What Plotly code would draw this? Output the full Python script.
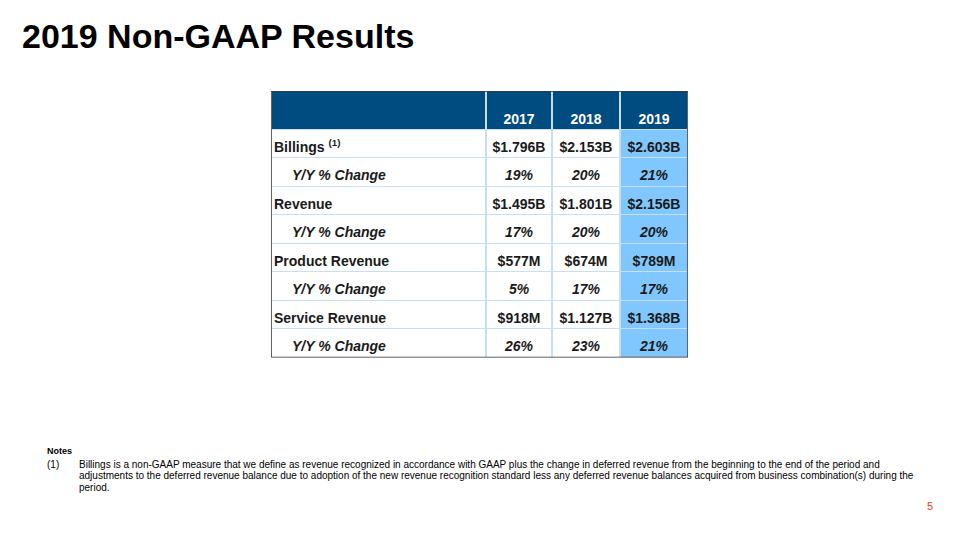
import plotly.graph_objects as go

title = "2019 Non-GAAP Results"
years = ["2017", "2018", "2019"]
row_labels = ["Billings", "Y/Y % Change", "Revenue", "Y/Y % Change",
              "Product Revenue", "Y/Y % Change", "Service Revenue", "Y/Y % Change"]
footnote_marks = ["(1)", "", "", "", "", "", "", ""]
v2017 = ["$1.796B", "19%", "$1.495B", "17%", "$577M", "5%", "$918M", "26%"]
v2018 = ["$2.153B", "20%", "$1.801B", "20%", "$674M", "17%", "$1.127B", "23%"]
v2019 = ["$2.603B", "21%", "$2.156B", "20%", "$789M", "17%", "$1.368B", "21%"]
highlight_year = "2019"
note_lines = [
    "Billings is a non-GAAP measure that we define as revenue recognized in accordance with GAAP plus the change in deferred revenue from the beginning to the end of the period and",
    "adjustments to the deferred revenue balance due to adoption of the new revenue recognition standard less any deferred revenue balances acquired from business combination(s) during the",
    "period.",
]

FONT = "Liberation Sans, Arial, sans-serif"
HEADER_BLUE = "#004B7F"
LIGHT_BLUE = "#80C6FF"
LINE_BLUE = "#C6DFF2"
TEXT = "#1a1a1a"

# table geometry (layout, in table pixels)
col_edges = [0, 215, 281, 349, 417]
header_h = 38.5
row_h = 28.5
text_drop = 4.5
n = len(row_labels)
row_edges = [0, header_h] + [header_h + row_h * (i + 1) for i in range(n)]
table_h = row_edges[-1]
TABLE_LEFT, TABLE_TOP = 271, 91

def px(x):
    return x / 960

def py(y):
    return 1 - y / 540

# fill codes: 0 header, 1 white, 2 highlight
col_values = [v2017, v2018, v2019]
z = [[0] * 4]
for i in range(n):
    z.append([1] + [2 if years[j] == highlight_year else 1 for j in range(3)])

fig = go.Figure()
fig.add_trace(go.Heatmap(
    x=col_edges, y=row_edges, z=z, zmin=0, zmax=2,
    colorscale=[[0, HEADER_BLUE], [0.5, "white"], [1, LIGHT_BLUE]],
    showscale=False, xgap=2, ygap=1, hoverinfo="skip",
))

col_centers = [(col_edges[j] + col_edges[j + 1]) / 2 for j in range(4)]
row_centers = [header_h + row_h * (i + 0.5) + text_drop for i in range(n)]

# header text
fig.add_trace(go.Scatter(
    x=col_centers[1:], y=[29] * 3, mode="text", text=years,
    textfont=dict(family=FONT, size=14, color="white", weight="bold"),
    hoverinfo="skip", showlegend=False,
))

# row labels
lab_text, lab_x = [], []
for i, (lab, fm) in enumerate(zip(row_labels, footnote_marks)):
    t = lab + (f" <sup>{fm}</sup>" if fm else "")
    if i % 2:
        t = "<i>" + t + "</i>"
        lab_x.append(21)
    else:
        lab_x.append(3)
    lab_text.append("<b>" + t + "</b>")
fig.add_trace(go.Scatter(
    x=lab_x, y=row_centers, mode="text", text=lab_text, textposition="middle right",
    textfont=dict(family=FONT, size=14, color=TEXT),
    hoverinfo="skip", showlegend=False,
))

# values
for j, col in enumerate(col_values):
    txt = [("<b><i>" + v + "</i></b>") if i % 2 else ("<b>" + v + "</b>") for i, v in enumerate(col)]
    fig.add_trace(go.Scatter(
        x=[col_centers[j + 1]] * n, y=row_centers, mode="text", text=txt,
        textposition="middle center",
        textfont=dict(family=FONT, size=14, color=TEXT),
        hoverinfo="skip", showlegend=False,
    ))

fig.add_shape(type="rect", xref="x", yref="y", x0=col_edges[0], x1=col_edges[-1], y0=0, y1=table_h,
              line=dict(color="#3a3a3a", width=1.5))

fig.update_xaxes(range=[0, col_edges[-1]], domain=[px(TABLE_LEFT), px(TABLE_LEFT + col_edges[-1])],
                 visible=False, fixedrange=True)
fig.update_yaxes(range=[table_h, 0], domain=[py(TABLE_TOP + table_h), py(TABLE_TOP)],
                 visible=False, fixedrange=True)

fig.add_annotation(text=title, xref="paper", yref="paper", x=px(20), y=py(36),
                   xanchor="left", yanchor="middle", showarrow=False,
                   font=dict(family=FONT, size=34, color="black", weight="bold"))
fig.add_annotation(text="Notes", xref="paper", yref="paper", x=px(45), y=py(451),
                   xanchor="left", yanchor="middle", showarrow=False,
                   font=dict(family=FONT, size=9, color="black", weight="bold"))
fig.add_annotation(text="(1)", xref="paper", yref="paper", x=px(45), y=py(464),
                   xanchor="left", yanchor="middle", showarrow=False,
                   font=dict(family=FONT, size=10, color="black"))
for i, line in enumerate(note_lines):
    fig.add_annotation(text=line, xref="paper", yref="paper", x=px(77), y=py(464 + 11.5 * i),
                       xanchor="left", yanchor="middle", showarrow=False,
                       font=dict(family=FONT, size=10, color="black"))
fig.add_annotation(text="5", xref="paper", yref="paper", x=px(930), y=py(506),
                   xanchor="center", yanchor="middle", showarrow=False,
                   font=dict(family=FONT, size=11, color="#E03C31"))

fig.update_layout(width=960, height=540, margin=dict(l=0, r=0, t=0, b=0),
                  paper_bgcolor="white", plot_bgcolor=LINE_BLUE)
fig.write_html("out.html", config={"displayModeBar": False},
               post_script="document.body.style.margin='0';")
